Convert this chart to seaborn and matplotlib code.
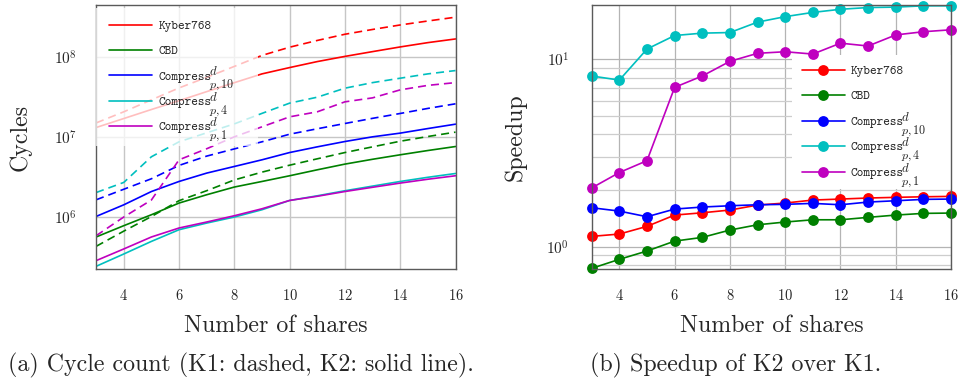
import matplotlib
matplotlib.use("Agg")
import matplotlib.pyplot as plt
from matplotlib.lines import Line2D
from matplotlib.ticker import FixedLocator, LogLocator, NullFormatter, NullLocator
import seaborn as sns

sns.set_style("white")
plt.rcParams["font.family"] = ["cmr10"]
plt.rcParams["mathtext.fontset"] = "cm"
plt.rcParams["axes.formatter.use_mathtext"] = True
plt.rcParams["lines.scale_dashes"] = False

# ---- data -------------------------------------------------------------
shares = list(range(3, 17))
tick_shares = [4, 6, 8, 10, 12, 14, 16]

names = ["Kyber768", "CBD", "Compress", "Compress", "Compress"]
sup_scripts = ["", "", "d", "d", "d"]
sub_scripts = ["", "", "p,10", "p,4", "p,1"]
colors = ["#ff0000", "#008000", "#0000ff", "#00bfbf", "#bf00bf"]

# K1 cycle counts (dashed)
k1_kyber = [1.49e7, 2.05e7, 2.89e7, 4.07e7, 5.51e7, 7.55e7, 1.035e8, 1.31e8, 1.59e8, 1.90e8, 2.18e8, 2.48e8, 2.78e8, 3.10e8]
k1_cbd = [4.31e5, 6.67e5, 1.014e6, 1.60e6, 2.13e6, 2.90e6, 3.63e6, 4.43e6, 5.32e6, 6.37e6, 7.50e6, 8.81e6, 1.009e7, 1.144e7]
k1_c10 = [1.64e6, 2.22e6, 3.00e6, 4.40e6, 5.75e6, 7.07e6, 8.67e6, 1.078e7, 1.26e7, 1.466e7, 1.70e7, 1.955e7, 2.26e7, 2.58e7]
k1_c4 = [2.02e6, 2.70e6, 5.64e6, 8.67e6, 1.122e7, 1.45e7, 1.96e7, 2.63e7, 3.12e7, 4.04e7, 4.74e7, 5.38e7, 6.09e7, 6.70e7]
k1_c1 = [5.85e5, 1.0e6, 1.63e6, 5.17e6, 7.10e6, 1.0e7, 1.333e7, 1.775e7, 2.05e7, 2.73e7, 3.06e7, 3.85e7, 4.38e7, 4.74e7]

# K2 cycle counts (solid)
k2_kyber = [1.306e7, 1.69e7, 2.19e7, 2.82e7, 3.66e7, 4.73e7, 6.09e7, 7.30e7, 8.67e7, 1.006e8, 1.154e8, 1.32e8, 1.494e8, 1.66e8]
k2_cbd = [5.64e5, 7.8e5, 1.068e6, 1.494e6, 1.896e6, 2.366e6, 2.776e6, 3.27e6, 3.88e6, 4.57e6, 5.25e6, 5.97e6, 6.75e6, 7.57e6]
k2_c10 = [1.017e6, 1.42e6, 2.08e6, 2.776e6, 3.53e6, 4.27e6, 5.17e6, 6.37e6, 7.50e6, 8.74e6, 1.0e7, 1.112e7, 1.268e7, 1.438e7]
k2_c4 = [2.43e5, 3.46e5, 4.97e5, 6.95e5, 8.41e5, 1.0e6, 1.233e6, 1.61e6, 1.84e6, 2.126e6, 2.43e6, 2.776e6, 3.13e6, 3.49e6]
k2_c1 = [2.86e5, 4.0e5, 5.64e5, 7.3e5, 8.67e5, 1.038e6, 1.268e6, 1.61e6, 1.815e6, 2.08e6, 2.35e6, 2.65e6, 2.96e6, 3.27e6]

# speedup of K2 over K1
sp_kyber = [1.136, 1.169, 1.285, 1.476, 1.518, 1.57, 1.669, 1.711, 1.775, 1.797, 1.82, 1.835, 1.848, 1.857]
sp_cbd = [0.767, 0.857, 0.949, 1.072, 1.122, 1.228, 1.31, 1.355, 1.393, 1.393, 1.435, 1.476, 1.507, 1.513]
sp_c10 = [1.615, 1.55, 1.446, 1.589, 1.629, 1.655, 1.675, 1.684, 1.704, 1.675, 1.732, 1.76, 1.79, 1.797]
sp_c4 = [8.15, 7.75, 11.35, 13.4, 13.8, 13.9, 15.8, 16.9, 17.8, 18.5, 18.9, 19.0, 19.3, 19.3]
sp_c1 = [2.06, 2.49, 2.88, 7.09, 8.15, 9.76, 10.77, 10.98, 10.67, 12.2, 11.78, 13.5, 14.04, 14.38]

k1 = [k1_kyber, k1_cbd, k1_c10, k1_c4, k1_c1]
k2 = [k2_kyber, k2_cbd, k2_c10, k2_c4, k2_c1]
speedup = [sp_kyber, sp_cbd, sp_c10, sp_c4, sp_c1]

# ---- figure -----------------------------------------------------------
fig = plt.figure(figsize=(9.62, 3.87), dpi=100)
ax1 = fig.add_axes([0.0999, 0.3041, 0.3736, 0.683])
ax2 = fig.add_axes([0.6151, 0.3041, 0.3735, 0.683])

dash = (0, (5.8, 3.6))
for c, y1, y2 in zip(colors, k1, k2):
    sns.lineplot(x=shares, y=y1, ax=ax1, color=c, lw=1.2, linestyle=dash)
    sns.lineplot(x=shares, y=y2, ax=ax1, color=c, lw=1.2)

for c, s in zip(colors, speedup):
    sns.lineplot(x=shares, y=s, ax=ax2, color=c, lw=1.2, marker="o",
                 markersize=7.8, markeredgewidth=0, clip_on=False)

label_size = 17.2
for ax in (ax1, ax2):
    ax.set_yscale("log")
    ax.set_xlim(3, 16)
    ax.xaxis.set_major_locator(FixedLocator(tick_shares))
    ax.xaxis.set_minor_locator(NullLocator())
    ax.yaxis.set_major_locator(LogLocator(base=10))
    ax.yaxis.set_minor_locator(LogLocator(base=10, subs=range(2, 10)))
    ax.yaxis.set_minor_formatter(NullFormatter())
    ax.set_axisbelow(True)
    ax.tick_params(axis="x", which="major", direction="out", length=4.3,
                   width=0.8, pad=9.5, labelsize=10.5, color="#333333")
    ax.tick_params(axis="y", which="major", direction="out", length=7.7,
                   width=0.8, pad=6.0, labelsize=11, color="#333333")
    ax.tick_params(axis="y", which="minor", direction="out", length=5,
                   width=0.7, color="#333333")
    for sp in ax.spines.values():
        sp.set_color("#5a5a5a")
        sp.set_linewidth(1.0)
    ax.set_xlabel("Number of shares", fontsize=label_size)
    ax.xaxis.label.set_va("center")
    ax.xaxis.set_label_coords(0.5, -0.213)

ax1.set_ylim(2.23e5, 4.4e8)
ax2.set_ylim(0.758, 19.5)
ax2.tick_params(axis="y", which="major", length=6.3, pad=10.0)
ax2.tick_params(axis="y", which="minor", length=4.8)

ax1.grid(True, which="major", color="#c6c6c6", lw=1.0)
ax2.grid(True, which="major", color="#b4b4b4", lw=0.9)
ax2.grid(True, which="minor", axis="y", color="#cdcdcd", lw=0.9)

ax1.set_ylabel("Cycles", fontsize=label_size)
ax2.set_ylabel("Speedup", fontsize=label_size)
for ax in (ax1, ax2):
    ax.yaxis.label.set_va("center")
    ax.yaxis.set_label_coords(-0.2117, 0.5)

# ---- legends ----------------------------------------------------------
legend_font = {"family": "cmtt10", "size": 9.1}


def add_scripts(ax, leg, z):
    """Stack the d / p,k scripts right after each 'Compress' legend entry."""
    for t, sup, sub in zip(leg.get_texts(), sup_scripts, sub_scripts):
        if not sub:
            continue
        ax.annotate(f"${sup}$", xy=(1, 0.5), xycoords=t,
                    xytext=(-2.0, 1.3), textcoords="offset points",
                    fontsize=9.2, ha="left", va="baseline", zorder=z,
                    annotation_clip=False)
        ax.annotate(f"${sub}$", xy=(1, 0.5), xycoords=t,
                    xytext=(-2.0, -7.9), textcoords="offset points",
                    fontsize=8.7, ha="left", va="baseline", zorder=z,
                    annotation_clip=False)


h1 = [Line2D([], [], color=c, lw=1.2) for c in colors]
leg1 = ax1.legend(h1, names, loc="upper left",
                  bbox_to_anchor=(0, 0, 0.4508, 0.9905), mode="expand",
                  borderaxespad=0, frameon=True, framealpha=0.75,
                  facecolor="white", edgecolor="none", fancybox=False,
                  prop=legend_font, handlelength=3.45, handletextpad=0.5,
                  borderpad=1.0, labelspacing=1.07)
add_scripts(ax1, leg1, 6)

h2 = [Line2D([], [], color=c, lw=1.2, marker="o", markersize=7.8,
             markeredgewidth=0) for c in colors]
leg2 = ax2.legend(h2, names, loc="upper right",
                  bbox_to_anchor=(0.5575, 0, 0.4425, 0.8108), mode="expand",
                  borderaxespad=0, frameon=True, framealpha=1.0,
                  facecolor="white", edgecolor="none", fancybox=False,
                  prop=legend_font, handlelength=3.36, handletextpad=0.48,
                  borderpad=0.8, labelspacing=1.08)
leg2.set_zorder(1.5)
add_scripts(ax2, leg2, 1.6)

fig.text(0.2505, 0.0568, "(a) Cycle count (K1: dashed, K2: solid line).",
         ha="center", va="center", fontsize=label_size)
fig.text(0.7645, 0.0568, "(b) Speedup of K2 over K1.",
         ha="center", va="center", fontsize=label_size)

fig.savefig("out.png", dpi=100)
